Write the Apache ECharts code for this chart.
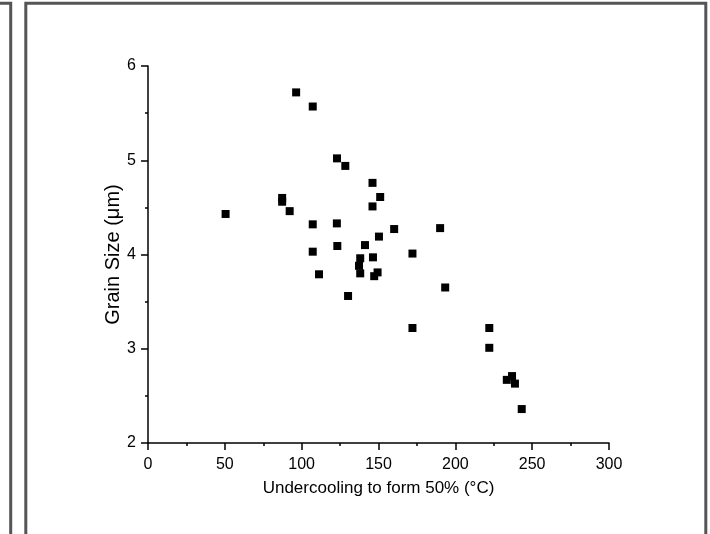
<!DOCTYPE html>
<html>
<head>
<meta charset="utf-8">
<style>
  html, body { margin: 0; padding: 0; background: #fff; }
  #chart { width: 710px; height: 534px; }
</style>
<script src="https://cdn.jsdelivr.net/npm/echarts@6/dist/echarts.min.js"></script>
</head>
<body>
<div id="chart"></div>
<script>
// Undercooling needed to form 50% (°C) and resulting grain size (µm)
const undercooling = [
  50.5, 87.3, 87.3, 92.2, 96.4, 107.2, 107.2, 107.2, 111.3, 122.9,
  123.0, 123.2, 128.4, 130.2, 137.3, 138.1, 138.1, 141.2, 146.1, 146.1,
  146.4, 147.2, 149.4, 150.3, 151.1, 160.2, 172.1, 172.1, 190.1, 193.4,
  222.1, 222.1, 233.5, 236.9, 238.8, 243.2
];
const grainSize = [
  4.43, 4.60, 4.56, 4.46, 5.72, 5.57, 4.32, 4.03, 3.79, 4.33,
  5.02, 4.09, 4.94, 3.56, 3.88, 3.96, 3.80, 4.10, 4.76, 4.51,
  3.97, 3.77, 3.81, 4.19, 4.61, 4.27, 4.01, 3.22, 4.28, 3.65,
  3.22, 3.01, 2.67, 2.71, 2.63, 2.36
];
const xTitle = 'Undercooling to form 50% (°C)';
const yTitle = 'Grain Size (μm)';

const points = undercooling.map((u, i) => [u, grainSize[i]]);

const FONT = 'Liberation Sans, Arial, sans-serif';
const chart = echarts.init(document.getElementById('chart'), null, { renderer: 'canvas' });

const axisCommon = {
  axisLine: { show: true, onZero: false, lineStyle: { color: '#000', width: 1.5 } },
  axisTick: { show: true, inside: false, length: 7, lineStyle: { color: '#000', width: 1.5 } },
  minorTick: { show: true, splitNumber: 2, length: 3, lineStyle: { color: '#000', width: 1.5 } },
  splitLine: { show: false },
  nameMoveOverlap: false
};
const labelStyle = { color: '#000', fontFamily: FONT, fontSize: 16 };

chart.setOption({
  animation: false,
  backgroundColor: '#fff',
  grid: { left: 148, right: 101, top: 66, bottom: 91, containLabel: false },
  xAxis: Object.assign({}, axisCommon, {
    type: 'value', min: 0, max: 300, interval: 50,
    axisLabel: Object.assign({ margin: 14 }, labelStyle),
    name: xTitle, nameLocation: 'middle', nameGap: 37,
    nameTextStyle: { color: '#000', fontFamily: FONT, fontSize: 17 }
  }),
  yAxis: Object.assign({}, axisCommon, {
    type: 'value', min: 2, max: 6, interval: 1,
    axisLabel: Object.assign({ margin: 12 }, labelStyle),
    name: yTitle, nameLocation: 'middle', nameGap: 25,
    nameTextStyle: { color: '#000', fontFamily: FONT, fontSize: 20 }
  }),
  series: [{
    type: 'scatter',
    data: points,
    symbol: 'rect',
    symbolSize: 8,
    itemStyle: { color: '#000', opacity: 1 }
  }],
  graphic: [
    { type: 'rect', silent: true, z: 100,
      shape: { x: -60, y: 3.2, width: 70.7, height: 600 },
      style: { fill: 'none', stroke: '#555', lineWidth: 3 } },
    { type: 'rect', silent: true, z: 100,
      shape: { x: 25.8, y: 3.2, width: 680, height: 600 },
      style: { fill: 'none', stroke: '#555', lineWidth: 3 } }
  ]
});
</script>
</body>
</html>
